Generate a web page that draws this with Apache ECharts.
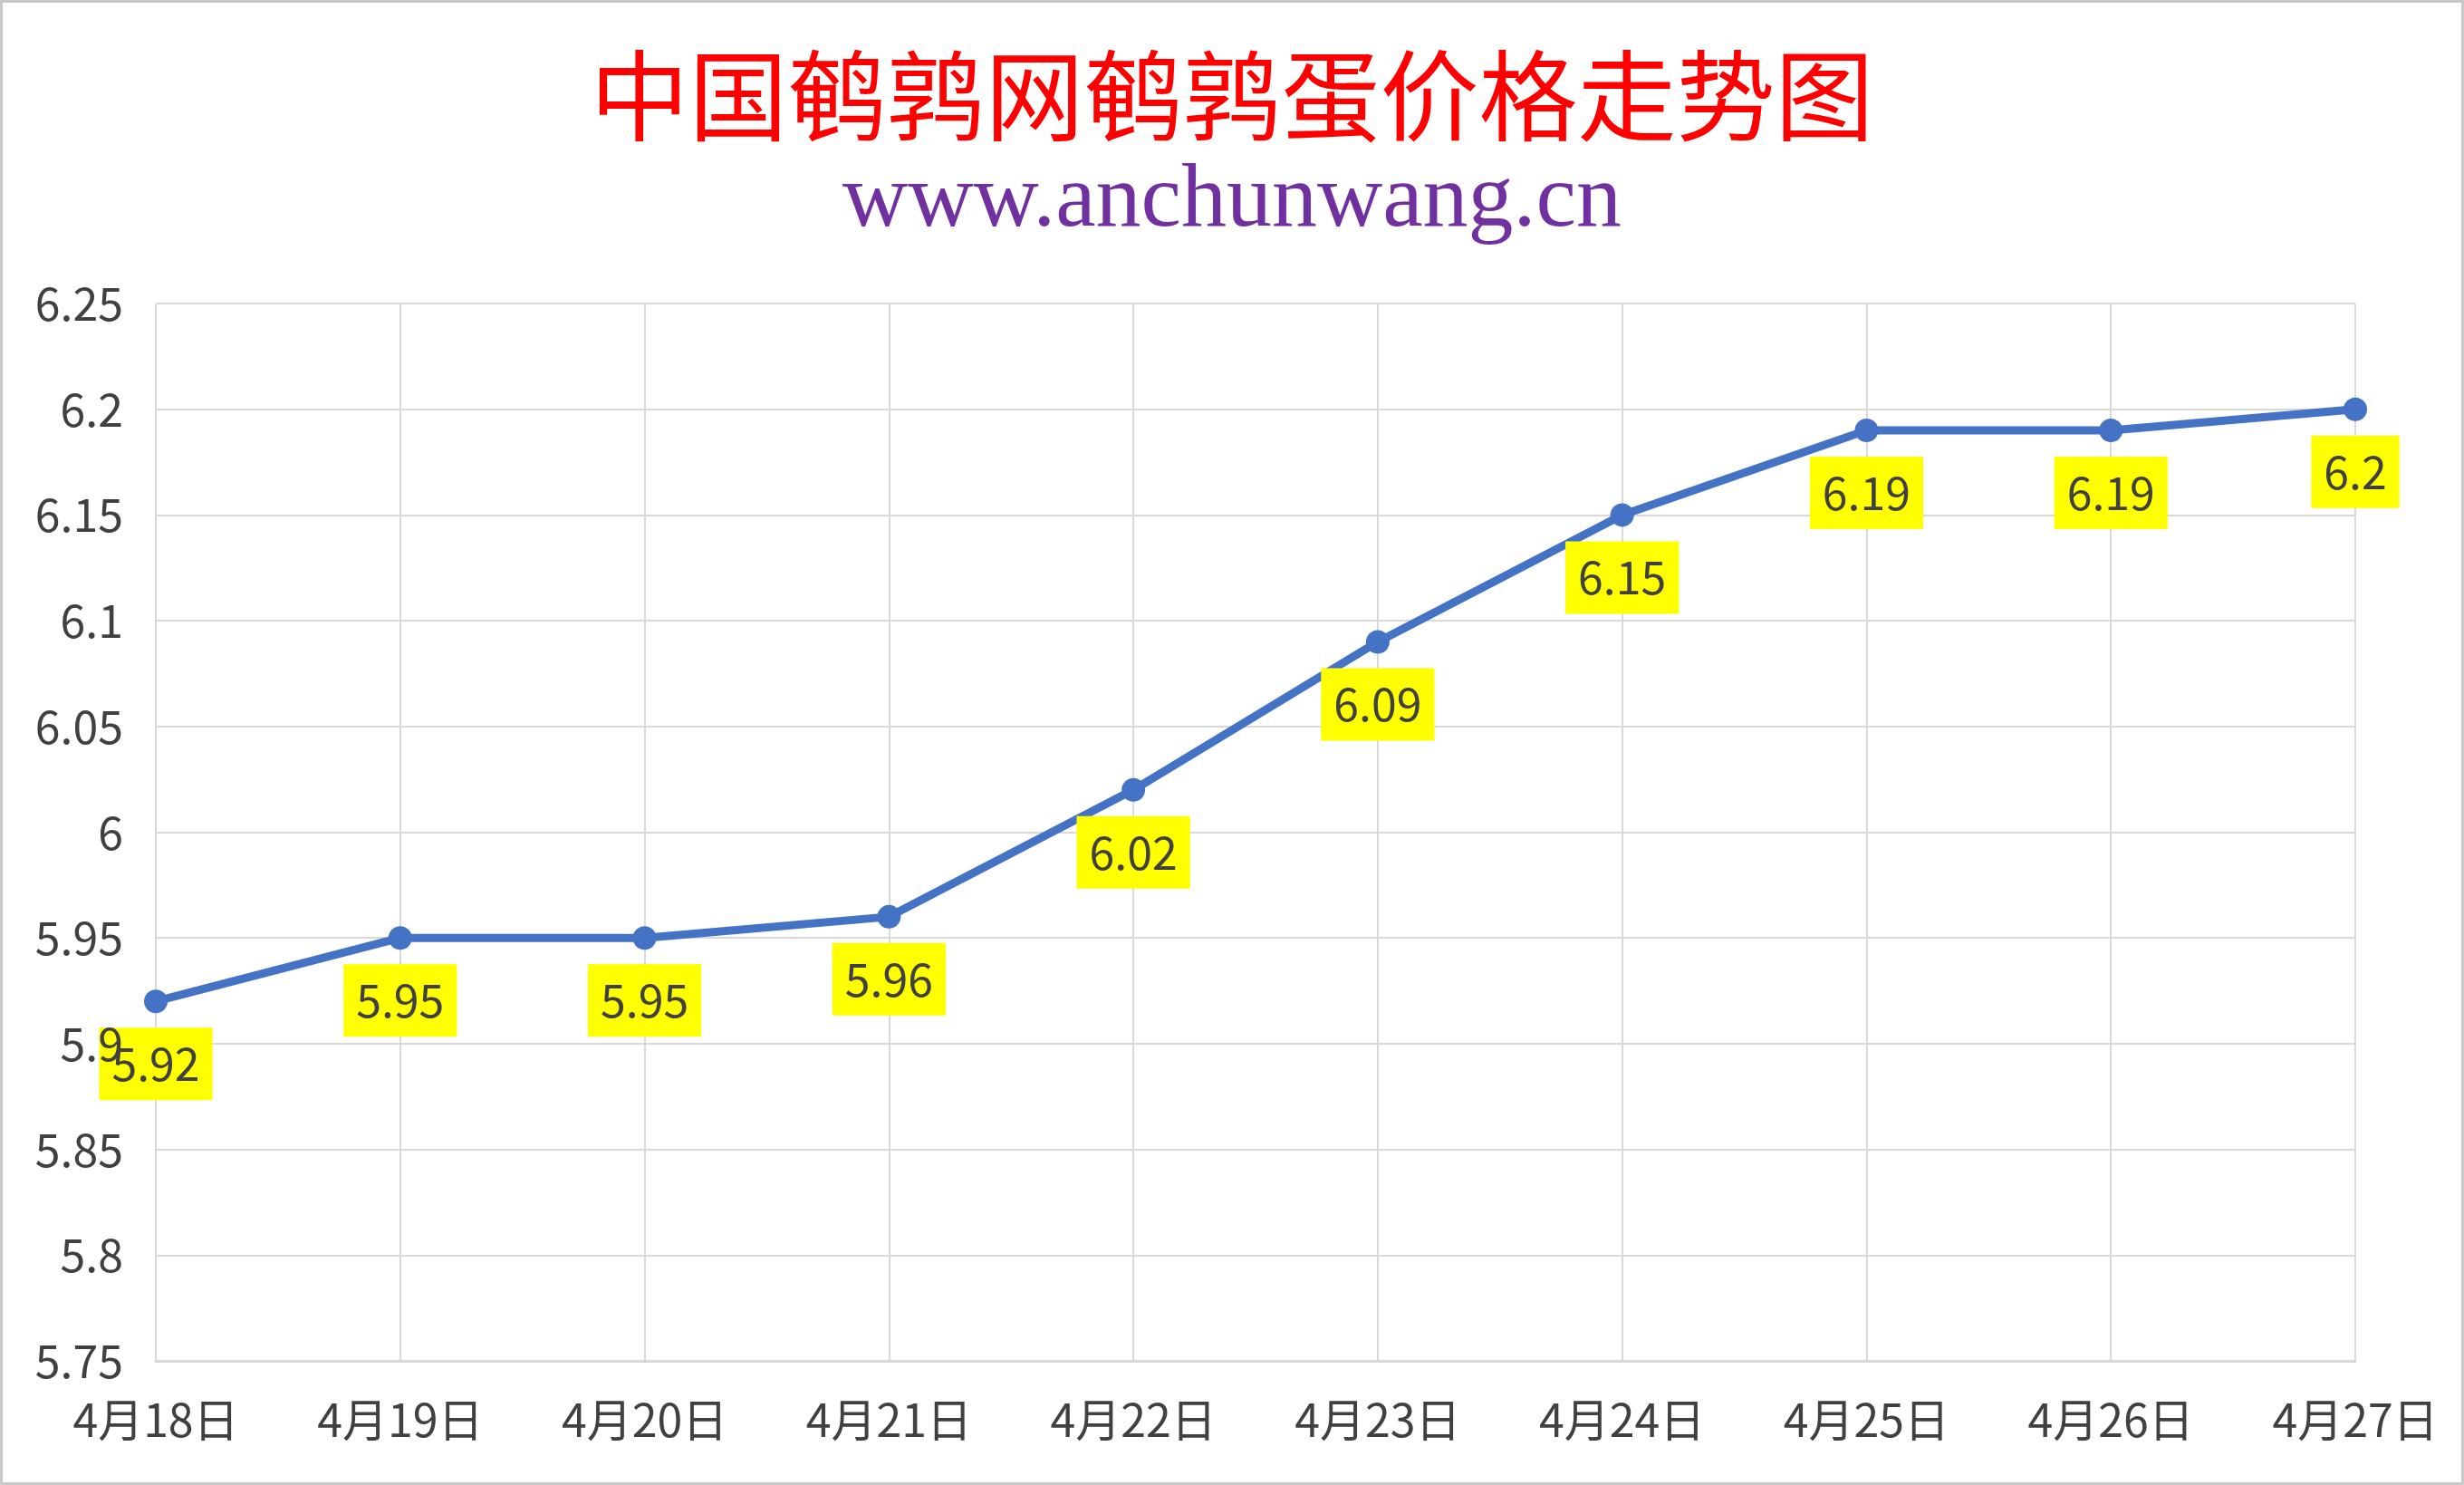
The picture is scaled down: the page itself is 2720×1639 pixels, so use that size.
<!DOCTYPE html>
<html>
<head>
<meta charset="utf-8">
<script src="https://cdn.jsdelivr.net/npm/echarts@6/dist/echarts.min.js"></script>
<style>
html,body{margin:0;padding:0;background:#fff;}
#c{width:2720px;height:1639px;}
</style>
</head>
<body>
<div id="c"></div>
<script>
const categories = ['4月18日','4月19日','4月20日','4月21日','4月22日','4月23日','4月24日','4月25日','4月26日','4月27日'];
const prices = [5.92, 5.95, 5.95, 5.96, 6.02, 6.09, 6.15, 6.19, 6.19, 6.2];
const titleText = '中国鹌鹑网鹌鹑蛋价格走势图';
const subtitleText = 'www.anchunwang.cn';
const yMin = 5.75, yMax = 6.25, yStep = 0.05;

const chart = echarts.init(document.getElementById('c'), null, {renderer:'canvas'});
const cjk = '"Noto Sans CJK SC", "Noto Sans", sans-serif';
const yLabel = {fontFamily:cjk, fontSize:50, color:'#404040', margin:36,
  formatter:v => String(+v.toFixed(2))};
chart.setOption({
  backgroundColor:'#ffffff',
  animation:false,
  graphic:[{
    type:'rect', z:100, silent:true,
    shape:{x:1.5, y:1.5, width:2717, height:1636},
    style:{fill:'none', stroke:'#c8c8c8', lineWidth:3}
  }],
  title:[{
    text:titleText,
    left:'center', top:46,
    textStyle:{fontFamily:cjk, fontSize:109, fontWeight:'normal', color:'#ff0000'}
  },{
    text:subtitleText,
    left:'center', top:168,
    textStyle:{fontFamily:'"Liberation Serif", "Times New Roman", serif', fontSize:100, fontWeight:'normal', color:'#7030a0'}
  }],
  grid:{left:172, right:120, top:335, bottom:137, containLabel:false},
  xAxis:{
    type:'category',
    data:categories,
    boundaryGap:false,
    axisLine:{show:true, lineStyle:{color:'#d9d9d9', width:3}},
    axisTick:{show:false},
    axisLabel:{fontFamily:cjk, fontSize:50, color:'#404040', margin:40},
    splitLine:{show:true, lineStyle:{color:'#d9d9d9', width:2}}
  },
  yAxis:[{
    type:'value',
    min:yMin, max:yMax, interval:yStep,
    axisLine:{show:false},
    axisTick:{show:false},
    axisLabel:{show:false},
    splitLine:{show:true, lineStyle:{color:'#d9d9d9', width:2}}
  },{
    type:'value', position:'left', offset:0,
    min:yMin, max:yMax, interval:yStep,
    z:50,
    axisLine:{show:false},
    axisTick:{show:false},
    axisLabel:yLabel,
    splitLine:{show:false}
  }],
  series:[{
    type:'line',
    yAxisIndex:0,
    data:prices,
    symbol:'circle',
    symbolSize:26,
    itemStyle:{color:'#4472c4'},
    lineStyle:{color:'#4472c4', width:9},
    label:{
      show:true, position:'bottom', distance:16,
      fontFamily:cjk, fontSize:50, color:'#404040',
      backgroundColor:'#ffff00', padding:[15,14], lineHeight:50
    },
    z:10
  }]
});
</script>
</body>
</html>
